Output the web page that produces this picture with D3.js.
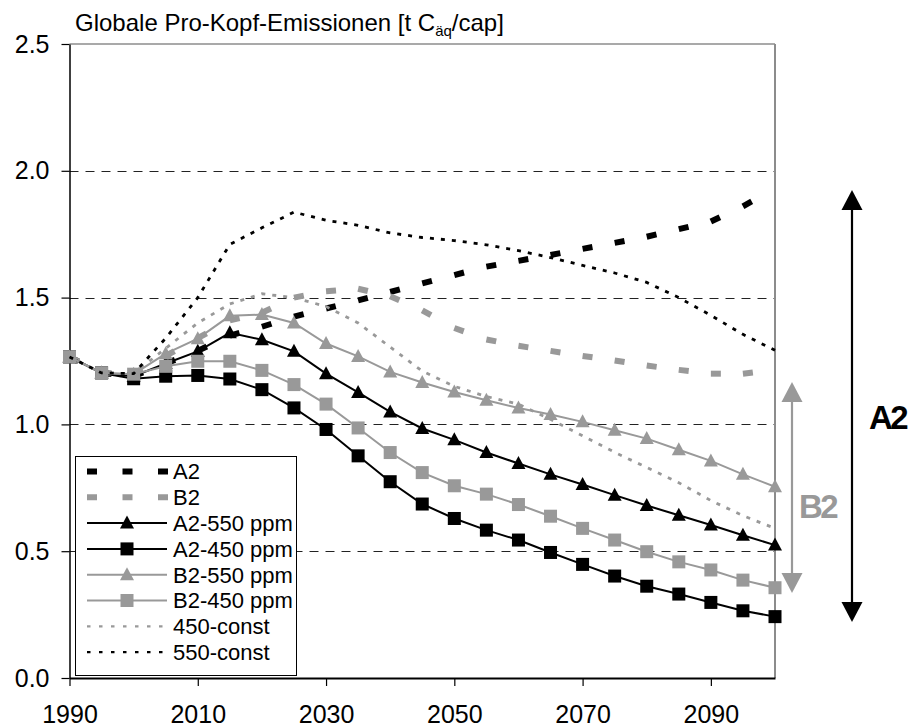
<!DOCTYPE html>
<html>
<head>
<meta charset="utf-8">
<script src="https://cdn.jsdelivr.net/npm/d3@7"></script>
<style>
  html, body { margin: 0; padding: 0; background: #fff; }
  svg { display: block; font-family: Arial, "Liberation Sans", sans-serif; }
</style>
</head>
<body>
<svg id="chart" width="911" height="728"></svg>
<script>
// Global per-capita emissions by scenario, t C-eq per capita
const years = [1990, 1995, 2000, 2005, 2010, 2015, 2020, 2025, 2030, 2035, 2040, 2045,
               2050, 2055, 2060, 2065, 2070, 2075, 2080, 2085, 2090, 2095, 2100];

const a2 = [1.266, 1.203, 1.19, 1.24, 1.29, 1.35, 1.385, 1.425, 1.457, 1.489, 1.522, 1.556,
            1.589, 1.622, 1.645, 1.668, 1.692, 1.716, 1.74, 1.77, 1.80, 1.86, 1.93];
const b2 = [1.266, 1.203, 1.20, 1.27, 1.34, 1.41, 1.44, 1.50, 1.525, 1.535, 1.505, 1.45,
            1.38, 1.335, 1.31, 1.29, 1.27, 1.252, 1.232, 1.215, 1.20, 1.20, 1.215];
const a2_550 = [1.266, 1.203, 1.19, 1.24, 1.288, 1.361, 1.334, 1.288, 1.20, 1.126, 1.049, 0.984,
                0.939, 0.889, 0.846, 0.803, 0.763, 0.721, 0.68, 0.642, 0.603, 0.563, 0.524];
const a2_450 = [1.266, 1.203, 1.18, 1.19, 1.193, 1.179, 1.137, 1.065, 0.98, 0.876, 0.774, 0.686,
                0.629, 0.583, 0.544, 0.495, 0.448, 0.402, 0.362, 0.331, 0.298, 0.265, 0.242];
const b2_550 = [1.266, 1.203, 1.198, 1.279, 1.338, 1.428, 1.433, 1.40, 1.319, 1.268, 1.207, 1.165,
                1.128, 1.095, 1.065, 1.039, 1.01, 0.977, 0.944, 0.90, 0.856, 0.803, 0.754];
const b2_450 = [1.266, 1.203, 1.198, 1.229, 1.249, 1.249, 1.213, 1.157, 1.08, 0.986, 0.889, 0.81,
                0.758, 0.725, 0.684, 0.638, 0.59, 0.544, 0.498, 0.458, 0.426, 0.386, 0.356];
const c450 = [1.266, 1.203, 1.2, 1.30, 1.40, 1.475, 1.515, 1.50, 1.465, 1.40, 1.305, 1.21,
              1.15, 1.11, 1.08, 1.02, 0.955, 0.89, 0.83, 0.77, 0.70, 0.64, 0.59];
const c550 = [1.266, 1.203, 1.2, 1.34, 1.50, 1.71, 1.775, 1.837, 1.805, 1.785, 1.755, 1.737,
              1.725, 1.708, 1.685, 1.658, 1.627, 1.597, 1.56, 1.50, 1.43, 1.355, 1.292];

const seriesNames = ["A2", "B2", "A2-550 ppm", "A2-450 ppm", "B2-550 ppm", "B2-450 ppm", "450-const", "550-const"];
const xTicks = [1990, 2010, 2030, 2050, 2070, 2090];
const yTicks = [0.0, 0.5, 1.0, 1.5, 2.0, 2.5];
const gridValues = [0.5, 1.0, 1.5, 2.0];

const BLACK = "#000";
const GREY = "#999";

const series = [
  { name: seriesNames[0], values: a2,     color: BLACK, kind: "thickdash" },
  { name: seriesNames[1], values: b2,     color: GREY,  kind: "thickdash" },
  { name: seriesNames[2], values: a2_550, color: BLACK, kind: "triangle" },
  { name: seriesNames[3], values: a2_450, color: BLACK, kind: "square" },
  { name: seriesNames[4], values: b2_550, color: GREY,  kind: "triangle" },
  { name: seriesNames[5], values: b2_450, color: GREY,  kind: "square" },
  { name: seriesNames[6], values: c450,   color: GREY,  kind: "dot" },
  { name: seriesNames[7], values: c550,   color: BLACK, kind: "dot" }
];

const svg = d3.select("#chart");
svg.append("rect").attr("width", 911).attr("height", 728).attr("fill", "#fff");

const plotLeft = 69.5, plotRight = 775, plotTop = 44, plotBottom = 678;
const x = d3.scaleLinear().domain([1990, 2100]).range([plotLeft, plotRight]);
const y = d3.scaleLinear().domain([0, 2.5]).range([plotBottom, plotTop]);

// Plot frame (grey top and right edges)
svg.append("line").attr("x1", plotLeft).attr("x2", plotRight).attr("y1", plotTop).attr("y2", plotTop)
  .attr("stroke", "#8c8c8c").attr("stroke-width", 1.5);
svg.append("line").attr("x1", plotRight).attr("x2", plotRight).attr("y1", plotTop).attr("y2", plotBottom)
  .attr("stroke", "#8c8c8c").attr("stroke-width", 2);

// Dashed horizontal gridlines
svg.append("g").selectAll("line").data(gridValues).join("line")
  .attr("x1", plotLeft).attr("x2", plotRight - 1)
  .attr("y1", d => Math.round(y(d)) + 0.5).attr("y2", d => Math.round(y(d)) + 0.5)
  .attr("stroke", "#222").attr("stroke-width", 1).attr("stroke-dasharray", "9,7");

// Axes
const yAxis = d3.axisLeft(y).tickValues(yTicks).tickFormat(d3.format(".1f")).tickSizeInner(8).tickSizeOuter(0).tickPadding(12);
const gy = svg.append("g").attr("transform", `translate(${plotLeft},0)`).call(yAxis);
gy.select(".domain").attr("stroke", "#000").attr("stroke-width", 1.5);
gy.selectAll(".tick line").attr("stroke", "#000").attr("stroke-width", 1.2);
gy.selectAll(".tick text").attr("font-size", 25).attr("fill", "#000")
  .attr("font-family", "Arial, 'Liberation Sans', sans-serif");

const xAxis = d3.axisBottom(x).tickValues(xTicks).tickFormat(d3.format("d")).tickSizeInner(8).tickSizeOuter(0).tickPadding(19);
const gx = svg.append("g").attr("transform", `translate(0,${plotBottom})`).call(xAxis);
gx.select(".domain").attr("stroke", "#000").attr("stroke-width", 2);
gx.selectAll(".tick line").attr("stroke", "#000").attr("stroke-width", 1.2);
gx.selectAll(".tick text").attr("font-size", 25).attr("fill", "#000")
  .attr("font-family", "Arial, 'Liberation Sans', sans-serif");

// Title
const title = svg.append("text").attr("x", 75).attr("y", 31).attr("font-size", 24).attr("fill", "#000");
title.append("tspan").text("Globale Pro-Kopf-Emissionen [t C");
title.append("tspan").attr("font-size", 15).attr("dy", 5).text("äq");
title.append("tspan").attr("dy", -5).text("/cap]");

// Series
const line = d3.line().x(d => x(d.year)).y(d => y(d.v));
const plot = svg.append("g");

series.forEach(s => {
  const pts = years.map((yr, i) => ({ year: yr, v: s.values[i] }));
  const g = plot.append("g");
  if (s.kind === "thickdash") {
    // one dash at the start of each segment
    g.selectAll("line").data(d3.pairs(pts)).join("line")
      .attr("x1", d => x(d[0].year)).attr("y1", d => y(d[0].v))
      .attr("x2", d => x(d[1].year)).attr("y2", d => y(d[1].v))
      .attr("stroke", s.color).attr("stroke-width", 6)
      .attr("stroke-dasharray", "10,60");
  } else if (s.kind === "dot") {
    g.append("path").attr("d", line(pts)).attr("fill", "none")
      .attr("stroke", s.color).attr("stroke-width", 2.8).attr("stroke-dasharray", "4,7");
  } else {
    g.append("path").attr("d", line(pts)).attr("fill", "none")
      .attr("stroke", s.color).attr("stroke-width", 2);
    if (s.kind === "square") {
      g.selectAll("rect").data(pts).join("rect")
        .attr("x", d => x(d.year) - 6.5).attr("y", d => y(d.v) - 6.5)
        .attr("width", 13).attr("height", 13).attr("fill", s.color);
    } else {
      g.selectAll("path.m").data(pts).join("path").attr("class", "m")
        .attr("d", d => {
          const cx = x(d.year), cy = y(d.v);
          return `M${cx},${cy - 7.5}L${cx + 7},${cy + 5.5}L${cx - 7},${cy + 5.5}Z`;
        })
        .attr("fill", s.color);
    }
  }
});

// Legend
const lg = svg.append("g");
lg.append("rect").attr("x", 75.5).attr("y", 456.5).attr("width", 221).attr("height", 219)
  .attr("fill", "#fff").attr("stroke", "#000").attr("stroke-width", 1);
const lx0 = 87, lx1 = 167, lxm = 127, ltx = 173;
series.forEach((s, i) => {
  const ly = 471.5 + i * 25.8;
  const row = lg.append("g");
  if (s.kind === "thickdash") {
    row.append("line").attr("x1", lx0).attr("x2", lx1 + 1).attr("y1", ly).attr("y2", ly)
      .attr("stroke", s.color).attr("stroke-width", 6).attr("stroke-dasharray", "10,25.5");
  } else if (s.kind === "dot") {
    row.append("line").attr("x1", lx0).attr("x2", lx1).attr("y1", ly).attr("y2", ly)
      .attr("stroke", s.color).attr("stroke-width", 2.2).attr("stroke-dasharray", "3.5,8.5");
  } else {
    row.append("line").attr("x1", lx0).attr("x2", lx1).attr("y1", ly).attr("y2", ly)
      .attr("stroke", s.color).attr("stroke-width", 2);
    if (s.kind === "square") {
      row.append("rect").attr("x", lxm - 6.5).attr("y", ly - 6.5).attr("width", 13).attr("height", 13)
        .attr("fill", s.color);
    } else {
      row.append("path").attr("d", `M${lxm},${ly - 7.5}L${lxm + 7},${ly + 5.5}L${lxm - 7},${ly + 5.5}Z`)
        .attr("fill", s.color);
    }
  }
  row.append("text").attr("x", ltx).attr("y", ly).attr("dy", "0.36em")
    .attr("font-size", 22).attr("fill", "#000").text(s.name);
});

// Range arrows for the two scenario families
function rangeArrow(cx, y1, y2, color, label, lx, lyBase) {
  const g = svg.append("g");
  const hw = 10.5, hh = 20;
  g.append("line").attr("x1", cx).attr("x2", cx).attr("y1", y1 + hh - 2).attr("y2", y2 - hh + 2)
    .attr("stroke", color).attr("stroke-width", 2.2);
  g.append("path").attr("d", `M${cx},${y1}L${cx + hw},${y1 + hh}L${cx - hw},${y1 + hh}Z`).attr("fill", color);
  g.append("path").attr("d", `M${cx},${y2}L${cx + hw},${y2 - hh}L${cx - hw},${y2 - hh}Z`).attr("fill", color);
  g.append("text").attr("x", lx).attr("y", lyBase).attr("font-size", 33).attr("font-weight", "bold")
    .attr("letter-spacing", -2.5).attr("fill", color).text(label);
}
rangeArrow(852, 190, 622, BLACK, "A2", 869, 429);
rangeArrow(792, 382, 593, GREY, "B2", 799, 518);
</script>
</body>
</html>
